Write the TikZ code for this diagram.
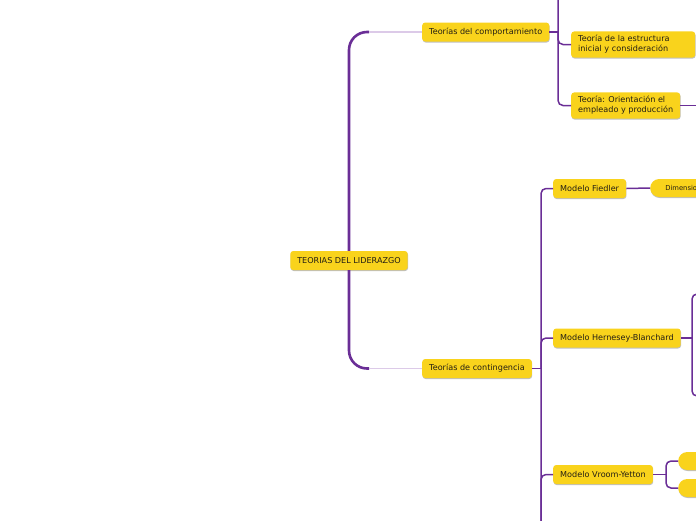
\documentclass[tikz,border=0pt]{standalone}
\usepackage{fontspec}
\setmainfont{DejaVu Sans}
\usetikzlibrary{
    positioning,                      % right=of, below=of
    calc,                             % ($(a)+(1,0)$)
    shadows                           % drop shadow
}
\definecolor{map_yellow}{RGB}{249,211,28}
\definecolor{map_purple}{RGB}{106,46,150}
\definecolor{map_lilac}{RGB}{220,202,232}
\definecolor{map_text}{RGB}{35,30,20}
\tikzset{
    topic/.style={
        rectangle, fill=map_yellow, rounded corners=3pt,
        minimum height=19pt, inner xsep=7pt, inner ysep=4pt,
        align=left, text=map_text, font=\fontsize{8.1}{10}\selectfont,
        drop shadow={shadow xshift=0.4pt, shadow yshift=-1pt,
                     fill=black, opacity=0.25}
    },
    pill/.style={
        topic, rounded corners=9pt, minimum height=18pt,
        minimum width=70pt, font=\fontsize{6.8}{7}\selectfont
    },
    trunk/.style={
        map_purple, line width=2.6pt, rounded corners=18pt
    },
    soft/.style={
        map_lilac, line width=1.4pt
    },
    branch/.style={
        map_purple, line width=1.5pt, rounded corners=5pt
    }
}

\begin{document}
\begin{tikzpicture}[x=1pt, y=-1pt]

    \clip (0,0) rectangle (696,520);

    % --- Raiz y ramas principales ---
    \node[topic] (root) at (349,260.5) {TEORIAS DEL LIDERAZGO};
    \node[topic, anchor=west] (comp) at (422,32) {Teorías del comportamiento};
    \node[topic, anchor=west] (cont) at (422,368.5) {Teorías de contingencia};

    \coordinate (comp_in) at (369,32);
    \coordinate (cont_in) at (369,368.5);
    \draw[trunk] (root.north) |- (comp_in);
    \draw[trunk] (root.south) |- (cont_in);
    \draw[soft] (comp_in) -- (comp.west);
    \draw[soft] (cont_in) -- (cont.west);

    % --- Teorias del comportamiento ---
    \node[topic, anchor=west, text width=110pt] (estr) at (571,44.5) {Teoría de la estructura\\inicial y consideración};
    \node[topic, anchor=west] (orie) at (571,105.5) {Teoría: Orientación el\\empleado y producción};

    \coordinate (comp_bus) at (558,32);
    \coordinate (comp_up) at (558,-12);
    \coordinate (orie_out) at (706,105.5);
    \draw[branch] (comp.east) -- (comp_bus);
    \draw[branch] (comp_up) |- (orie.west);
    \draw[branch] (comp_bus) |- (estr.west);
    \draw[branch] (orie.east) -- (orie_out);

    % --- Teorias de contingencia ---
    \node[topic, anchor=west] (fied)  at (553,188.5) {Modelo Fiedler};
    \node[topic, anchor=west] (hern)  at (553,338)   {Modelo Hernesey-Blanchard};
    \node[topic, anchor=west] (vroom) at (553,474.5) {Modelo Vroom-Yetton};
    \node[pill, anchor=west] (dim) at (650,188) {\hspace*{4pt}Dimensiones};

    \coordinate (cont_bus) at (541,368.5);
    \coordinate (cont_down) at (541,532);
    \draw[branch] (cont.east) -- (cont_bus);
    \draw[branch] (cont_down) |- (fied.west);
    \draw[branch] (cont_bus) |- (hern.west);
    \draw[branch] (cont_down) |- (vroom.west);
    \draw[branch] (fied.east) -- (dim.west);

    % --- Hernesey-Blanchard ---
    \coordinate (hern_bus) at (692,338);
    \coordinate (hern_top) at (704,294);
    \coordinate (hern_bot) at (704,396);
    \draw[branch] (hern.east) -- (hern_bus);
    \draw[branch] (hern_top) -| (hern_bus) |- (hern_bot);

    % --- Vroom-Yetton ---
    \node[pill, anchor=west] (vr_a) at (678,461) {};
    \node[pill, anchor=west] (vr_b) at (678,488) {};
    \coordinate (vr_bus) at (666,474.5);
    \draw[branch] (vroom.east) -- (vr_bus);
    \draw[branch] (vr_a.west) -| (vr_bus) |- (vr_b.west);

\end{tikzpicture}
\end{document}
